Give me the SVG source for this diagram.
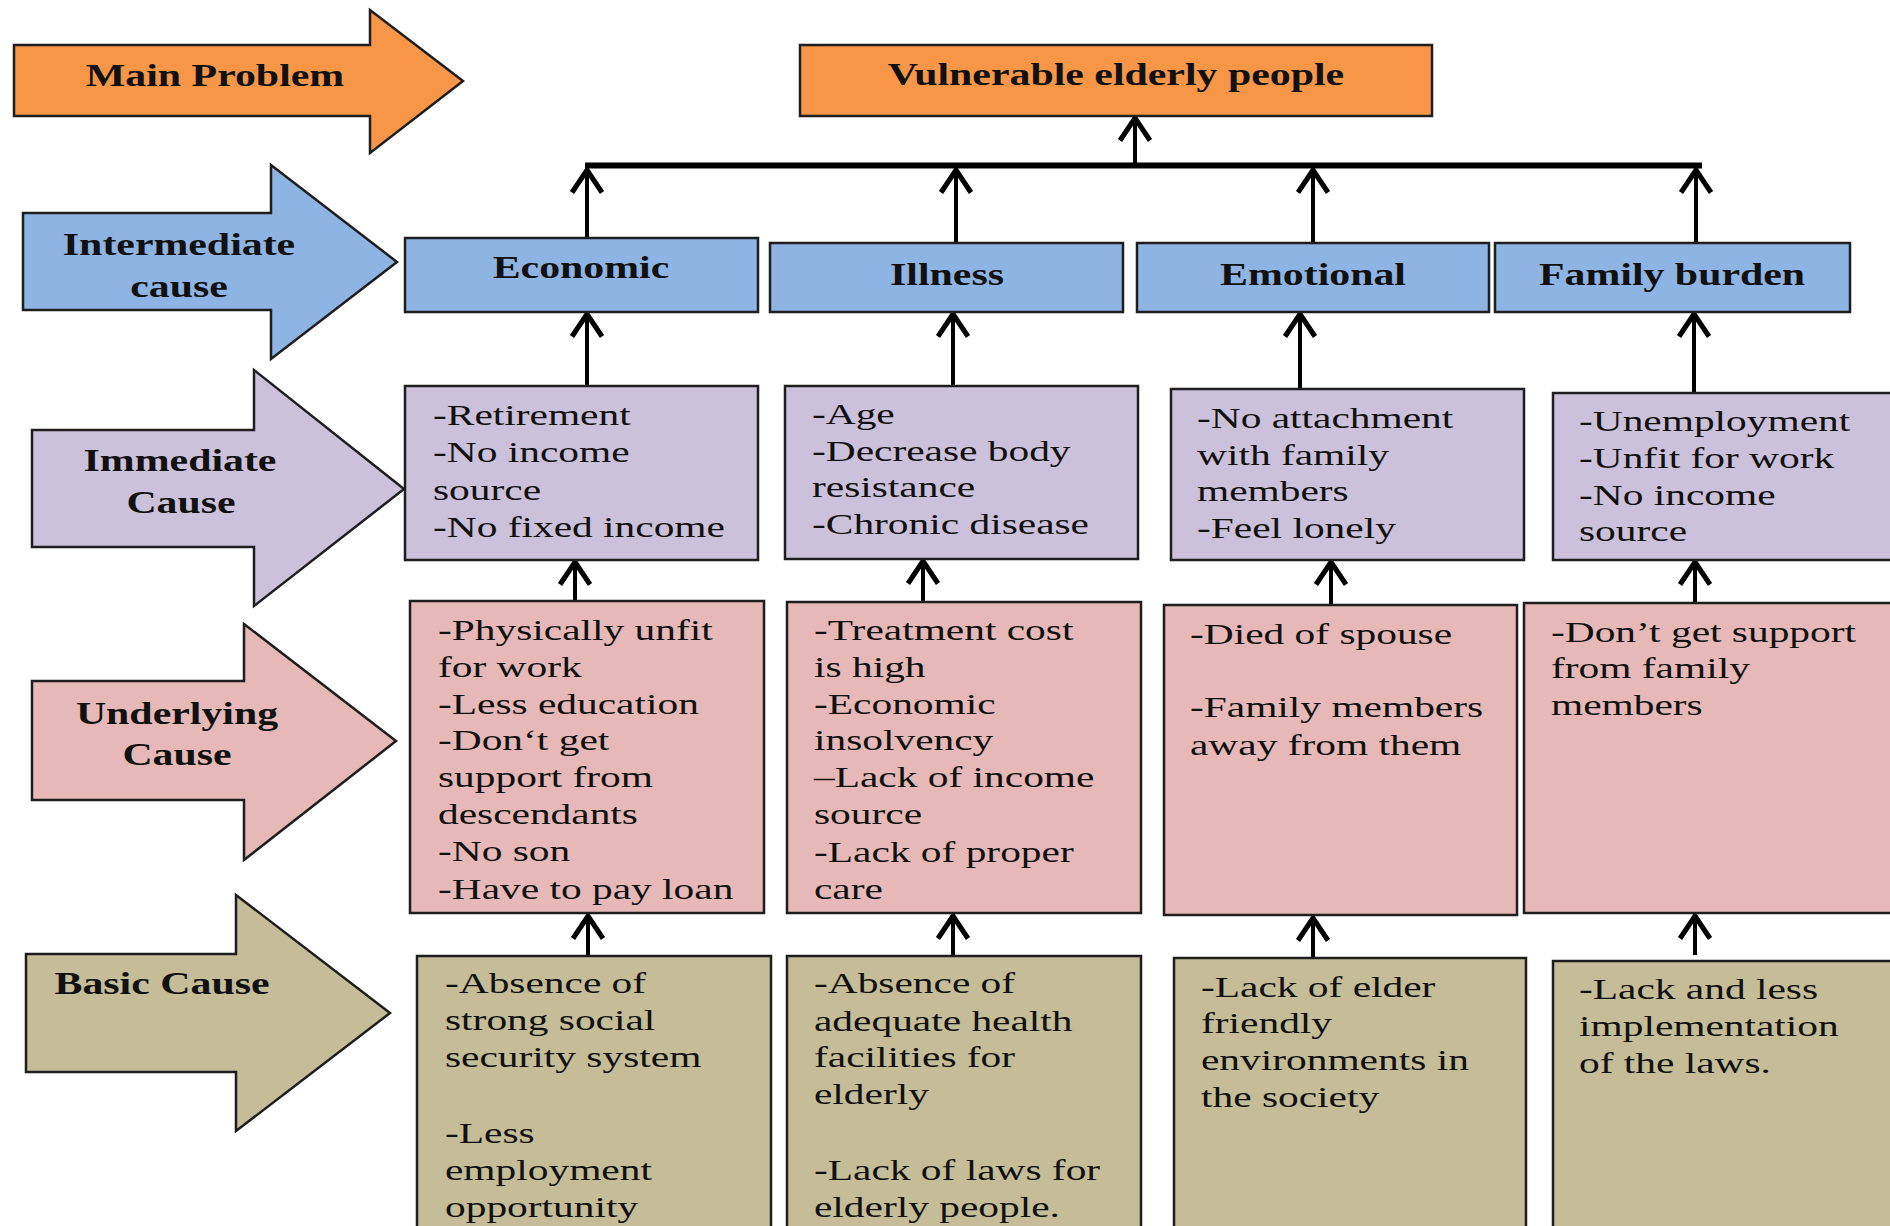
<svg xmlns="http://www.w3.org/2000/svg" width="1890" height="1226" viewBox="0 0 1890 1226">
<style>
.bg{fill:#ffffff}
.orange{fill:#F79646}
.blue{fill:#8EB4E3}
.lav{fill:#CCC1DA}
.pink{fill:#E6B9B8}
.khaki{fill:#C4BD97}
.box{stroke:#1e1e1e;stroke-width:2.5}
.lbl{stroke:#1e1e1e;stroke-width:2.5;stroke-linejoin:miter}
.b{font-family:"Liberation Serif","Times New Roman",serif;font-weight:bold;font-size:31px;fill:#111;text-anchor:middle}
.t{font-family:"Liberation Serif","Times New Roman",serif;font-size:30px;fill:#111}
.c{stroke:#000;stroke-width:4;fill:none}
.bus{stroke:#000;stroke-width:6;fill:none}
</style>
<defs>
<marker id="ah" markerUnits="userSpaceOnUse" markerWidth="40" markerHeight="40" viewBox="-22 -16 26 32" refX="0" refY="0" orient="auto">
<path d="M-18,-12 L0,0 L-18,12" fill="none" stroke="#000" stroke-width="4"/>
</marker>
</defs>
<rect class="bg" x="0" y="0" width="1890" height="1226"/>

<g id="legend-main">
<polygon class="orange lbl" points="14,45 370,45 370,10 463,81 370,153 370,116 14,116"/>
<text class="b" transform="translate(215,86) scale(1.35,1)">Main Problem</text>
</g>
<g id="legend-intermediate">
<polygon class="blue lbl" points="23,213 271,213 271,165 397,262 271,359 271,310 23,310"/>
<text class="b" transform="translate(179,255) scale(1.35,1)">Intermediate</text>
<text class="b" transform="translate(179,297) scale(1.35,1)">cause</text>
</g>
<g id="legend-immediate">
<polygon class="lav lbl" points="32,430 254,430 254,370 404,489 254,606 254,547 32,547"/>
<text class="b" transform="translate(180,471) scale(1.35,1)">Immediate</text>
<text class="b" transform="translate(181,513) scale(1.35,1)">Cause</text>
</g>
<g id="legend-underlying">
<polygon class="pink lbl" points="32,681 244,681 244,624 396,741 244,860 244,800 32,800"/>
<text class="b" transform="translate(177,724) scale(1.35,1)">Underlying</text>
<text class="b" transform="translate(177,765) scale(1.35,1)">Cause</text>
</g>
<g id="legend-basic">
<polygon class="khaki lbl" points="26,954 236,954 236,895 390,1013 236,1131 236,1072 26,1072"/>
<text class="b" transform="translate(162,994) scale(1.35,1)">Basic Cause</text>
</g>

<g id="connectors">
<line class="bus" x1="585" y1="165.5" x2="1702" y2="165.5"/>
<line class="c" x1="1135" y1="163" x2="1135" y2="118" marker-end="url(#ah)"/>
<line class="c" x1="587" y1="238" x2="587" y2="170" marker-end="url(#ah)"/>
<line class="c" x1="956" y1="243" x2="956" y2="170" marker-end="url(#ah)"/>
<line class="c" x1="1313" y1="243" x2="1313" y2="170" marker-end="url(#ah)"/>
<line class="c" x1="1696" y1="243" x2="1696" y2="170" marker-end="url(#ah)"/>
<line class="c" x1="587" y1="386" x2="587" y2="314" marker-end="url(#ah)"/>
<line class="c" x1="953" y1="386" x2="953" y2="314" marker-end="url(#ah)"/>
<line class="c" x1="1300" y1="389" x2="1300" y2="314" marker-end="url(#ah)"/>
<line class="c" x1="1694" y1="393" x2="1694" y2="314" marker-end="url(#ah)"/>
<line class="c" x1="575" y1="601" x2="575" y2="562" marker-end="url(#ah)"/>
<line class="c" x1="923" y1="602" x2="923" y2="561" marker-end="url(#ah)"/>
<line class="c" x1="1331" y1="604" x2="1331" y2="562" marker-end="url(#ah)"/>
<line class="c" x1="1695" y1="603" x2="1695" y2="562" marker-end="url(#ah)"/>
<line class="c" x1="588" y1="956" x2="588" y2="916" marker-end="url(#ah)"/>
<line class="c" x1="953" y1="956" x2="953" y2="916" marker-end="url(#ah)"/>
<line class="c" x1="1313" y1="957" x2="1313" y2="918" marker-end="url(#ah)"/>
<line class="c" x1="1695" y1="955" x2="1695" y2="916" marker-end="url(#ah)"/>
</g>

<g id="main-problem">
<rect class="orange box" x="800" y="45" width="632" height="71"/>
<text class="b" transform="translate(1116,85) scale(1.35,1)">Vulnerable elderly people</text>
</g>

<g id="int-economic">
<rect class="blue box" x="405" y="238" width="353" height="74"/>
<text class="b" transform="translate(581,278) scale(1.35,1)">Economic</text>
</g>
<g id="int-illness">
<rect class="blue box" x="770" y="243" width="353" height="69"/>
<text class="b" transform="translate(947,285) scale(1.35,1)">Illness</text>
</g>
<g id="int-emotional">
<rect class="blue box" x="1137" y="243" width="352" height="69"/>
<text class="b" transform="translate(1313,285) scale(1.35,1)">Emotional</text>
</g>
<g id="int-family">
<rect class="blue box" x="1495" y="243" width="355" height="69"/>
<text class="b" transform="translate(1672,285) scale(1.35,1)">Family burden</text>
</g>

<g id="imm-economic">
<rect class="lav box" x="405" y="386" width="353" height="174"/>
<text class="t" transform="translate(433,425) scale(1.38,1)"><tspan x="0" y="0">-Retirement</tspan><tspan x="0" y="37.3">-No income</tspan><tspan x="0" y="74.6">source</tspan><tspan x="0" y="112">-No fixed income</tspan></text>
</g>
<g id="imm-illness">
<rect class="lav box" x="785" y="386" width="353" height="173"/>
<text class="t" transform="translate(812,424) scale(1.38,1)"><tspan x="0" y="0">-Age</tspan><tspan x="0" y="37">-Decrease body</tspan><tspan x="0" y="73.5">resistance</tspan><tspan x="0" y="110">-Chronic disease</tspan></text>
</g>
<g id="imm-emotional">
<rect class="lav box" x="1171" y="389" width="353" height="171"/>
<text class="t" transform="translate(1197,428) scale(1.38,1)"><tspan x="0" y="0">-No attachment</tspan><tspan x="0" y="37">with family</tspan><tspan x="0" y="73">members</tspan><tspan x="0" y="110">-Feel lonely</tspan></text>
</g>
<g id="imm-family">
<rect class="lav box" x="1553" y="393" width="360" height="167"/>
<text class="t" transform="translate(1579,431) scale(1.38,1)"><tspan x="0" y="0">-Unemployment</tspan><tspan x="0" y="37">-Unfit for work</tspan><tspan x="0" y="74">-No income</tspan><tspan x="0" y="110">source</tspan></text>
</g>

<g id="und-economic">
<rect class="pink box" x="410" y="601" width="354" height="312"/>
<text class="t" transform="translate(438,640) scale(1.38,1)"><tspan x="0" y="0">-Physically unfit</tspan><tspan x="0" y="37">for work</tspan><tspan x="0" y="73.6">-Less education</tspan><tspan x="0" y="110.3">-Don‘t get</tspan><tspan x="0" y="147">support from</tspan><tspan x="0" y="183.6">descendants</tspan><tspan x="0" y="220.7">-No son</tspan><tspan x="0" y="258.6">-Have to pay loan</tspan></text>
</g>
<g id="und-illness">
<rect class="pink box" x="787" y="602" width="354" height="311"/>
<text class="t" transform="translate(814,640) scale(1.38,1)"><tspan x="0" y="0">-Treatment cost</tspan><tspan x="0" y="37">is high</tspan><tspan x="0" y="73.6">-Economic</tspan><tspan x="0" y="110.3">insolvency</tspan><tspan x="0" y="147">–Lack of income</tspan><tspan x="0" y="183.6">source</tspan><tspan x="0" y="222">-Lack of proper</tspan><tspan x="0" y="258.6">care</tspan></text>
</g>
<g id="und-emotional">
<rect class="pink box" x="1164" y="605" width="353" height="310"/>
<text class="t" transform="translate(1190,644) scale(1.38,1)"><tspan x="0" y="0">-Died of spouse</tspan><tspan x="0" y="73">-Family members</tspan><tspan x="0" y="110.6">away from them</tspan></text>
</g>
<g id="und-family">
<rect class="pink box" x="1524" y="603" width="380" height="310"/>
<text class="t" transform="translate(1551,642) scale(1.38,1)"><tspan x="0" y="0">-Don’t get support</tspan><tspan x="0" y="36">from family</tspan><tspan x="0" y="73">members</tspan></text>
</g>

<g id="basic-economic">
<rect class="khaki box" x="417" y="956" width="354" height="290"/>
<text class="t" transform="translate(445,993) scale(1.38,1)"><tspan x="0" y="0">-Absence of</tspan><tspan x="0" y="37">strong social</tspan><tspan x="0" y="74">security system</tspan><tspan x="0" y="150">-Less</tspan><tspan x="0" y="187">employment</tspan><tspan x="0" y="224">opportunity</tspan></text>
</g>
<g id="basic-illness">
<rect class="khaki box" x="787" y="956" width="354" height="290"/>
<text class="t" transform="translate(814,993) scale(1.38,1)"><tspan x="0" y="0">-Absence of</tspan><tspan x="0" y="37.7">adequate health</tspan><tspan x="0" y="74">facilities for</tspan><tspan x="0" y="111">elderly</tspan><tspan x="0" y="187">-Lack of laws for</tspan><tspan x="0" y="224">elderly people.</tspan></text>
</g>
<g id="basic-emotional">
<rect class="khaki box" x="1174" y="958" width="352" height="290"/>
<text class="t" transform="translate(1201,997) scale(1.38,1)"><tspan x="0" y="0">-Lack of elder</tspan><tspan x="0" y="36.5">friendly</tspan><tspan x="0" y="73.5">environments in</tspan><tspan x="0" y="110.5">the society</tspan></text>
</g>
<g id="basic-family">
<rect class="khaki box" x="1553" y="961" width="360" height="290"/>
<text class="t" transform="translate(1579,999) scale(1.38,1)"><tspan x="0" y="0">-Lack and less</tspan><tspan x="0" y="36.7">implementation</tspan><tspan x="0" y="73.7">of the laws.</tspan></text>
</g>
</svg>
